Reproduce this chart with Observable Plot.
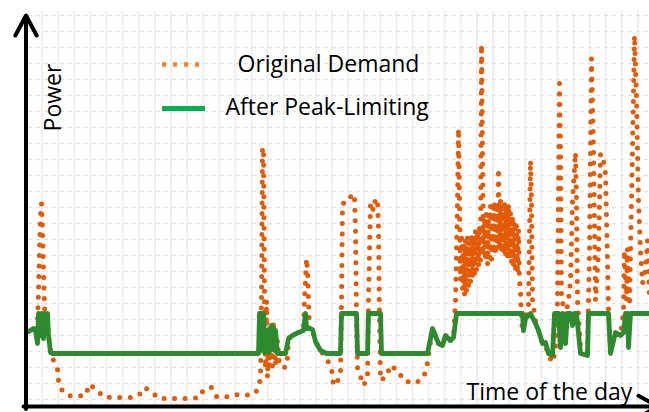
<!DOCTYPE html>
<html>
<head>
<meta charset="utf-8">
<script src="https://cdn.jsdelivr.net/npm/d3@7"></script>
<script src="https://cdn.jsdelivr.net/npm/@observablehq/plot@0.6"></script>
<style>
  html, body { margin: 0; padding: 0; background: #fff; overflow: hidden; }
  #chart svg { display: block; }
</style>
</head>
<body>
<div id="chart"></div>
<script>
// ---- Data (time of day in hours, power in arbitrary units) ----
const orangeTime = [0,0.2,0.28,0.36,0.4,0.44,0.48,0.52,0.56,0.6,0.64,0.68,0.76,0.8,0.88,
  1.0,1.16,1.2,1.32,1.56,1.96,2.32,2.4,2.76,2.96,3.36,3.76,4.2,4.48,4.64,4.96,5.2,5.6,6.44,6.84,7.0,7.32,7.52,7.84,8.2,8.6,9.0,9.2,
  9.28,9.32,9.36,9.4,9.44,9.48,9.52,9.56,9.6,9.64,9.68,9.76,9.8,9.88,9.96,10.04,10.16,10.28,10.36,
  10.4,10.56,10.8,11.0,11.04,11.12,11.16,11.2,11.24,11.36,11.48,11.68,11.92,12.12,12.2,12.32,12.48,
  12.52,12.56,12.76,12.96,13.04,13.08,13.12,13.16,13.4,13.56,13.6,13.68,13.8,13.88,13.96,14.0,14.04,14.08,14.36,14.44,14.8,14.96,15.36,15.68,15.88,15.96,
  16.16,16.4,16.56,16.68,16.88,17.0,17.08,17.16,17.2,17.24,17.28,
  17.32,17.36,17.4,17.44,17.48,17.52,17.56,17.6,17.64,17.68,17.72,17.76,17.8,17.84,17.88,17.92,17.96,18.0,18.04,18.08,
  18.12,18.16,18.2,18.24,18.28,18.32,18.36,18.4,18.44,18.48,18.52,18.56,18.6,18.64,18.68,18.72,18.76,18.8,18.84,18.88,
  18.92,18.96,19.0,19.04,19.08,19.12,19.16,19.2,19.24,19.28,19.32,19.36,19.4,19.44,19.48,19.52,19.56,19.6,19.64,
  19.68,19.72,19.76,19.88,20.0,20.08,20.12,20.16,20.28,20.4,20.56,20.68,20.8,20.96,
  21.08,21.16,21.24,21.28,21.32,21.4,21.48,21.6,21.68,21.76,21.88,21.92,21.96,22.08,22.36,
  22.44,22.52,22.6,22.68,22.8,22.88,23.0,23.08,23.16,23.2,23.28,23.48,23.68,23.8,23.84,23.92,23.96,24.04,24.08,24.16,24.24,24.32,24.4,24.48,24.56,24.68,24.76,24.84];
const orangePower = [18.5,19.25,18.75,21.25,28.75,38.75,47.5,50.5,43.75,33.75,25,21.25,20.75,17.5,13.75,
  11.25,9,6.25,4,2.5,2.25,2.75,5.25,4,2.25,2,2,2,3,4.5,3.25,1.75,1.75,1.75,2,4,4.5,2.25,2,2.75,2.5,2.75,4.25,
  7,26.25,64.5,63.75,26.25,9.25,26.25,7,16.25,9.75,18.75,9.75,21.25,10,16.25,10,9.75,9.5,12,
  16.75,17.5,18.25,18.75,26.25,36.75,33.75,26.25,18.75,19,16,13.75,11.75,9.25,5,5.5,8,
  26.25,50.5,50.75,53,52,43.75,21.25,9.5,5,6.75,26.25,50.75,48.75,51.75,51.25,43.75,21.25,6.25,7.5,10,8.75,6.5,5.5,6.25,8.25,10.75,
  19.25,15.5,15,17.5,16.25,17,26.25,51.25,69.25,51.25,31.25,
  42,29,40,27.5,41.5,28.75,42.5,30,41,31,43,32,42,33,44,34,43.5,35,45,36.25,
  90.25,63.75,37.5,47,36,49,35,48,37,50,36.5,49.5,38,51,37.5,50.5,39,59.25,38.75,51.5,
  39,50,38,51,37.5,49.5,37,50.5,36.5,48.5,36,47.5,35,46,34,45,33,44,31,
  28.75,21.25,18.75,21.75,25,61.25,51.25,26.25,21.25,18.75,15.5,15,12.5,10.75,
  13.75,26.25,80.5,63.75,26.25,25,22.5,26.25,31.25,51.25,63.25,51.25,26.25,15,13.25,
  38.75,86.75,63.75,26.25,38.75,63,61.25,58,36.25,23.75,13.75,18.25,17.5,23.75,38.75,26.25,39.25,25,38.75,63.75,92.5,76.25,51.25,38.75,30.5,33.75,41.25,26.25];

const greenTime = [0,0.2,0.28,0.36,0.4,0.48,0.52,0.6,0.64,0.72,0.76,0.8,0.88,0.96,
  9.2,9.24,9.28,9.32,9.4,9.44,9.48,9.52,9.56,9.6,9.64,9.68,9.72,9.8,9.84,9.88,9.96,
  10.28,10.4,10.56,10.8,11.0,11.08,11.12,11.2,11.36,11.48,11.68,11.92,
  12.48,12.52,13.12,13.16,13.56,13.6,14.08,14.12,
  15.96,16.16,16.4,16.56,16.68,16.88,17.0,17.12,
  19.76,19.8,19.88,20.08,20.28,20.4,20.56,20.68,20.8,20.96,21.04,21.2,21.28,21.36,21.48,21.56,21.68,21.76,21.84,21.92,22.08,22.36,22.4,
  23.2,23.28,23.48,23.68,23.8,23.88,23.96,24.0,24.08,24.84];
const greenPower = [18.5,19.25,18.75,15.5,23,17.5,23,16.75,23,18.75,23,17.5,13.25,13,
  13,23,13.75,23,23,13.25,18.75,13.75,17.5,13.25,19.25,13.75,20,19.25,13.75,18.75,13,
  13,16.75,17.5,18.25,18.75,23,19.25,19.25,19,16,13.75,13,
  13,23,23,13,13,23,23,13,
  13,19.25,15.5,15,17.5,16.25,17,23,
  23,18.75,21.75,23,20.5,18.75,15.5,15.75,13,12.5,23,23,14.5,23,15.5,23,23,20,23,23,13,12.5,23,
  23,13,18.25,17.5,18.25,23,23,14.5,23,23];

const seriesNames = ["Original Demand", "After Peak-Limiting"];
const axisLabels = { y: "Power", x: "Time of the day" };

// ---- Build tables ----
const original = orangeTime.map((t, i) => ({ t, p: orangePower[i] }));
const limited = greenTime.map((t, i) => ({ t, p: greenPower[i] }));

// ---- Styling / layout ----
const W = 649, H = 412;
const xDomain = [0, 24.84], yDomain = [0, 97.5];
const font = "'Open Sans', sans-serif";
const fs = 23;
const orangeC = "#e35a08", greenC = "#2e8a2e";
const legendOrange = "#ff7f27", legendGreen = "#00b050";
const vGrid = d3.range(0.548, 24.9, 0.644);
const hGrid = d3.range(1.5, 98, 4);

const chart = Plot.plot({
  width: W, height: H,
  marginLeft: 28, marginRight: 0, marginTop: 15, marginBottom: 7,
  x: { domain: xDomain, axis: null },
  y: { domain: yDomain, axis: null },
  style: { background: "#fff", overflow: "hidden" },
  marks: [
    Plot.ruleX(vGrid, { stroke: "#efefef", strokeWidth: 2, y1: -0.5, y2: 98.5 }),
    Plot.ruleY(hGrid, { stroke: "#e2e2e2", strokeWidth: 1.5, strokeDasharray: "4 4" }),
    // series
    Plot.line(original, { x: "t", y: "p", stroke: orangeC, strokeWidth: 5,
      strokeDasharray: "0 10.5", strokeLinecap: "round", strokeLinejoin: "round" }),
    Plot.line(limited, { x: "t", y: "p", stroke: greenC, strokeWidth: 4.8,
      strokeLinejoin: "round", strokeLinecap: "round" }),
    // axes with arrows
    Plot.arrow([0], { x1: -0.1, x2: -0.1, y1: -0.9, y2: 97.5, stroke: "#000",
      strokeWidth: 4, headLength: 8.5, headAngle: 56 }),
    Plot.arrow([0], { x1: -0.2, x2: 25.2, y1: -0.25, y2: -0.25, stroke: "#000",
      strokeWidth: 4, headLength: 8.5, headAngle: 56 }),
    // legend
    Plot.ruleY([85.25], { x1: 5.36, x2: 7.08, stroke: legendOrange, strokeWidth: 4.5, strokeDasharray: "4 7" }),
    Plot.ruleY([74.25], { x1: 5.36, x2: 7.08, stroke: legendGreen, strokeWidth: 5 }),
    Plot.text([seriesNames[0]], { frameAnchor: "top-left", dx: 209, dy: 49,
      textAnchor: "start", lineAnchor: "middle", fontSize: fs, fontFamily: font, fill: "#000" }),
    Plot.text([seriesNames[1]], { frameAnchor: "top-left", dx: 197, dy: 92,
      textAnchor: "start", lineAnchor: "middle", fontSize: fs, fontFamily: font, fill: "#000" }),
    // axis titles
    Plot.text([axisLabels.y], { frameAnchor: "top-left", dx: 25, dy: 82, rotate: -90,
      textAnchor: "middle", lineAnchor: "middle", fontSize: fs, fontFamily: font, fill: "#000" }),
    Plot.text([axisLabels.x], { frameAnchor: "top-left", dx: 438, dy: 377,
      textAnchor: "start", lineAnchor: "middle", fontSize: fs, fontFamily: font, fill: "#000" })
  ]
});
document.getElementById("chart").appendChild(chart);
</script>
</body>
</html>
